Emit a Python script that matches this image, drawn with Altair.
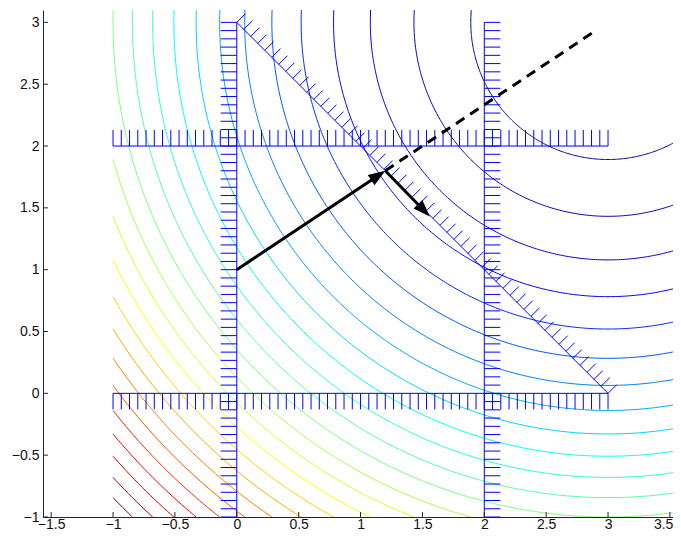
import math
import altair as alt
import pandas as pd

# ---------------- data ----------------
# contour levels of f(x, y) = (x - 3)^2 + (y - 3)^2
levels = [1.23, 2.46, 3.69, 4.92, 6.15, 7.38, 8.62, 9.85, 11.08, 12.31, 13.54,
          14.77, 16.0, 17.23, 18.46, 19.69, 20.92, 22.15, 23.38, 24.62, 25.85,
          27.08, 28.31, 29.54, 30.77]
center_x = 3.0
center_y = 3.0
grid_x = [-1.0, 4.0]
grid_y = [-1.0, 4.0]
jet_colors = ["#00008f", "#0000ff", "#00ffff", "#ffff00", "#ff0000", "#800000"]
jet_stops = [0.0, 0.125, 0.375, 0.625, 0.875, 1.0]

# constraint lines with hatching
con_x1 = [0.0, 2.0, -1.0, -1.0, 0.0]
con_y1 = [-1.0, -1.0, 0.0, 2.0, 3.0]
con_x2 = [0.0, 2.0, 3.0, 3.0, 3.0]
con_y2 = [3.0, 3.0, 0.0, 2.0, 0.0]
hatch_dx = [-0.13, 0.13, 0.0, 0.0, 0.07]
hatch_dy = [0.0, 0.0, -0.13, 0.13, 0.07]
hatch_n = [60, 60, 60, 60, 53]

# arrows and dashed line
arrow_x1 = [0.0, 1.2]
arrow_y1 = [1.0, 1.8]
arrow_x2 = [1.2, 1.56]
arrow_y2 = [1.8, 1.43]
dash_x = [1.2, 2.9]
dash_y = [1.8, 2.933]

x_ticks = [-1.5, -1.0, -0.5, 0.0, 0.5, 1.0, 1.5, 2.0, 2.5, 3.0, 3.5]
y_ticks = [-1.0, -0.5, 0.0, 0.5, 1.0, 1.5, 2.0, 2.5, 3.0]

# ---------------- layout ----------------
X_DOMAIN = [-1.566, 3.525]
Y_DOMAIN = [-1.0, 3.1]
W, H = 630, 507
PX_X = W / (X_DOMAIN[1] - X_DOMAIN[0])
PX_Y = H / (Y_DOMAIN[1] - Y_DOMAIN[0])

# ---------------- contour arcs ----------------
def valid(x, y):
    return grid_x[0] <= x <= grid_x[1] and grid_y[0] <= y <= grid_y[1]

rows = []
for li, lev in enumerate(levels):
    r = math.sqrt(lev)

    def pt(a, r=r):
        return (center_x + r * math.cos(a), center_y + r * math.sin(a))

    N = 720
    a0 = math.pi / 2
    angs = [a0 + 2 * math.pi * i / N for i in range(N + 1)]
    seg = 0
    cur = []

    def emit(cur, seg):
        for k, (px, py) in enumerate(cur):
            rows.append({"x": px, "y": py, "level": lev,
                         "seg": f"{li}_{seg}", "i": k})

    prev_a = angs[0]
    prev_v = valid(*pt(prev_a))
    if prev_v:
        cur.append(pt(prev_a))
    for a in angs[1:]:
        v = valid(*pt(a))
        if v != prev_v:
            lo, hi = prev_a, a
            for _ in range(40):
                m = (lo + hi) / 2
                if valid(*pt(m)) == prev_v:
                    lo = m
                else:
                    hi = m
            cross = pt((lo + hi) / 2)
            if v:
                cur = [cross]
            else:
                cur.append(cross)
                emit(cur, seg)
                seg += 1
                cur = []
        if v:
            cur.append(pt(a))
        prev_a, prev_v = a, v
    if cur:
        emit(cur, seg)

df_c = pd.DataFrame(rows)

# ---------------- constraint lines + hatches ----------------
rule_rows = []
for k in range(len(con_x1)):
    x1, y1, x2, y2 = con_x1[k], con_y1[k], con_x2[k], con_y2[k]
    rule_rows.append({"x": x1, "y": y1, "x2": x2, "y2": y2})
    n = hatch_n[k]
    for j in range(n + 1):
        t = j / n
        bx = x1 + (x2 - x1) * t
        by = y1 + (y2 - y1) * t
        rule_rows.append({"x": bx, "y": by,
                          "x2": bx + hatch_dx[k], "y2": by + hatch_dy[k]})
df_r = pd.DataFrame(rule_rows)

# ---------------- arrows ----------------
HEAD_LEN_PX = 17
arrow_rows = []
head_rows = []
for k in range(len(arrow_x1)):
    dx_px = (arrow_x2[k] - arrow_x1[k]) * PX_X
    dy_px = (arrow_y2[k] - arrow_y1[k]) * PX_Y
    L = math.hypot(dx_px, dy_px)
    back = 0.6 * HEAD_LEN_PX / L
    arrow_rows.append({"x": arrow_x1[k], "y": arrow_y1[k],
                       "x2": arrow_x2[k] - (arrow_x2[k] - arrow_x1[k]) * back,
                       "y2": arrow_y2[k] - (arrow_y2[k] - arrow_y1[k]) * back})
    ang = math.degrees(math.atan2(dx_px, dy_px)) % 360
    head_rows.append({"x": arrow_x2[k], "y": arrow_y2[k], "angle": ang})
df_a = pd.DataFrame(arrow_rows)
df_h = pd.DataFrame(head_rows)
df_d = pd.DataFrame([{"x": dash_x[0], "y": dash_y[0], "x2": dash_x[1], "y2": dash_y[1]}])

df_xt = pd.DataFrame({"v": x_ticks})
df_yt = pd.DataFrame({"v": y_ticks})

# ---------------- chart ----------------
xs = alt.Scale(domain=X_DOMAIN, nice=False, zero=False)
ys = alt.Scale(domain=Y_DOMAIN, nice=False, zero=False)
ax_common = dict(grid=False, ticks=False, tickSize=0, format="~g", title=None,
                 domainColor="#262626", domainWidth=1,
                 labelFont="Liberation Sans", labelFontSize=14,
                 labelColor="#111111")
last_x = x_ticks[-1]
xaxis = alt.Axis(
    values=x_ticks, labelPadding=0, labelFlush=False,
    labelAlign=alt.ConditionalAxisLabelAlign(
        condition={"test": f"datum.value >= {last_x}", "value": "right"},
        value="center"),
    labelOffset=alt.ConditionalAxisNumber(
        condition={"test": f"datum.value >= {last_x}", "value": 3},
        value=0),
    **ax_common)
yaxis = alt.Axis(values=y_ticks, labelPadding=4, **ax_common)

X = lambda f: alt.X(f, scale=xs, axis=xaxis)
Y = lambda f: alt.Y(f, scale=ys, axis=yaxis)

lo, hi = levels[0], levels[-1]
cscale = alt.Scale(domain=[lo + s * (hi - lo) for s in jet_stops],
                   range=jet_colors, interpolate="rgb")

contours = alt.Chart(df_c).mark_line(strokeWidth=1, clip=True).encode(
    x=X("x:Q"), y=Y("y:Q"),
    color=alt.Color("level:Q", scale=cscale, legend=None),
    detail="seg:N", order="i:Q")

constraints = alt.Chart(df_r).mark_rule(color="#0000ff", strokeWidth=1).encode(
    x=X("x:Q"), y=Y("y:Q"), x2="x2:Q", y2="y2:Q")

dashed = alt.Chart(df_d).mark_rule(color="black", strokeWidth=3,
                                   strokeDash=[10, 7]).encode(
    x=X("x:Q"), y=Y("y:Q"), x2="x2:Q", y2="y2:Q")

arrows = alt.Chart(df_a).mark_rule(color="black", strokeWidth=3).encode(
    x=X("x:Q"), y=Y("y:Q"), x2="x2:Q", y2="y2:Q")

heads = alt.Chart(df_h).mark_point(
    shape="M0,0 L-0.36,1 L0.36,1 Z", filled=True, color="black", opacity=1,
    size=(2 * HEAD_LEN_PX) ** 2, strokeWidth=0).encode(
    x=X("x:Q"), y=Y("y:Q"), angle=alt.Angle("angle:Q", scale=None))

xticks = alt.Chart(df_xt).mark_rule(color="#262626", strokeWidth=1).encode(
    x=X("v:Q"), y=alt.value(H), y2=alt.value(H - 5))
yticks = alt.Chart(df_yt).mark_rule(color="#262626", strokeWidth=1).encode(
    y=Y("v:Q"), x=alt.value(0), x2=alt.value(5))

chart = alt.layer(contours, constraints, dashed, arrows, heads, xticks, yticks).properties(
    width=W, height=H,
    autosize=alt.AutoSizeParams(type="none"),
    padding={"left": 35, "top": 2, "right": 0, "bottom": 13},
    background="white",
).configure_view(strokeWidth=0)

chart.save("out.html", embed_options={"renderer": "svg", "actions": False})
